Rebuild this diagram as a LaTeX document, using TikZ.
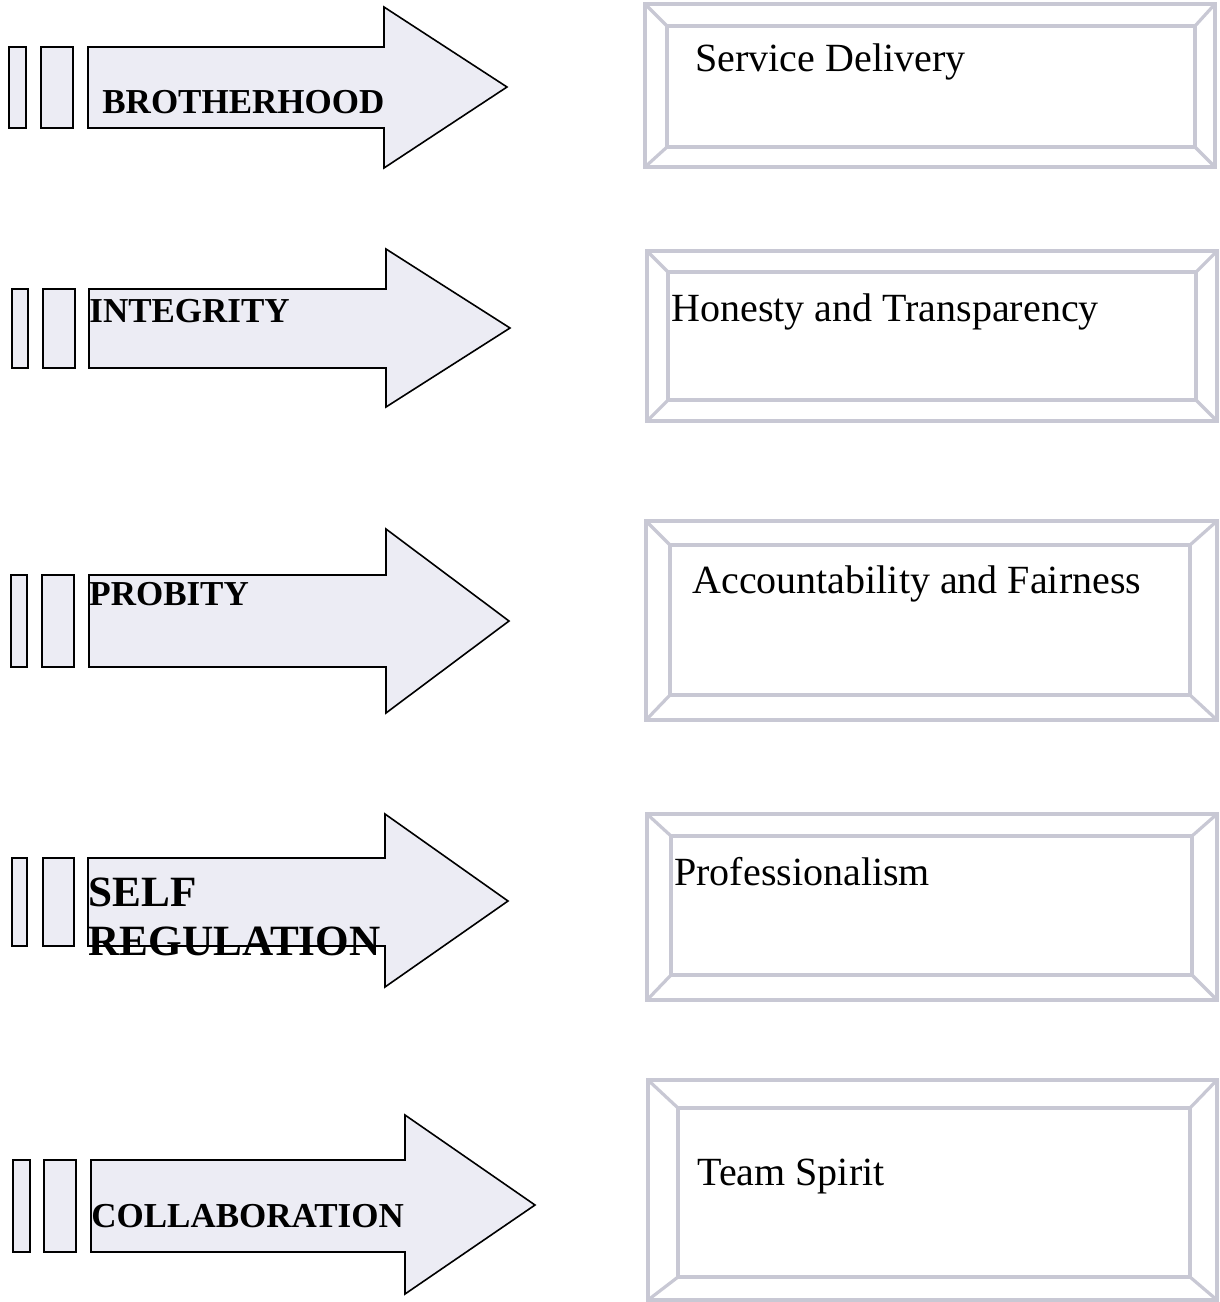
\documentclass[tikz,border=0pt]{standalone}
\usepackage{fontspec}
\setmainfont{Liberation Serif}
\definecolor{arrowfill}{RGB}{236,236,244}
\definecolor{frameline}{RGB}{200,200,212}
\begin{document}
\begin{tikzpicture}[x=0.5pt,y=-0.5pt,
  barbox/.style={draw=black,line width=0.8pt,fill=arrowfill},
  arrowfillst/.style={fill=arrowfill},
  arrowline/.style={draw=black,line width=0.8pt,line join=miter},
  lab/.style={anchor=base west,inner sep=0pt,font=\bfseries\fontsize{17.5}{21}\selectfont},
  biglab/.style={anchor=base west,inner sep=0pt,font=\bfseries\fontsize{21.6}{25}\selectfont},
  boxtext/.style={anchor=base west,inner sep=0pt,font=\fontsize{20}{24}\selectfont},
  frame/.style={draw=frameline,line width=1.6pt}]
\useasboundingbox (0,0) rectangle (1220,1302);
\fill[white] (0,0) rectangle (1220,1302);

% ---------- Arrow 1 ----------
\draw[barbox] (9,47) rectangle (26,128);
\draw[barbox] (41,47) rectangle (73,128);
\path[arrowfillst] (88,47) -- (384,47) -- (384,7) -- (507,87) -- (384,168) -- (384,128) -- (88,128) -- cycle;
\node[lab] (brotherhood) at (102,113) {BROTHERHOOD};
\path[arrowline] (88,47) -- (384,47) -- (384,7) -- (507,87) -- (384,168) -- (384,128) -- (88,128) -- cycle;

% ---------- Arrow 2 ----------
\draw[barbox] (12,289) rectangle (28,368);
\draw[barbox] (43,289) rectangle (75,368);
\path[arrowfillst] (89,289) -- (386,289) -- (386,249) -- (510,328) -- (386,407) -- (386,368) -- (89,368) -- cycle;
\node[lab] (integrity) at (89,322) {INTEGRITY};
\path[arrowline] (89,289) -- (386,289) -- (386,249) -- (510,328) -- (386,407) -- (386,368) -- (89,368) -- cycle;

% ---------- Arrow 3 ----------
\draw[barbox] (11,575) rectangle (27,667);
\draw[barbox] (42,575) rectangle (74,667);
\path[arrowfillst] (89,575) -- (386,575) -- (386,529) -- (509,621) -- (386,713) -- (386,667) -- (89,667) -- cycle;
\node[lab] (probity) at (89,605) {PROBITY};
\path[arrowline] (89,575) -- (386,575) -- (386,529) -- (509,621) -- (386,713) -- (386,667) -- (89,667) -- cycle;

% ---------- Arrow 4 ----------
\draw[barbox] (12,858) rectangle (27,946);
\draw[barbox] (43,858) rectangle (74,946);
\path[arrowfillst] (88,858) -- (385,858) -- (385,814) -- (508,901) -- (385,987) -- (385,946) -- (88,946) -- cycle;
\node[biglab] (self) at (88,906) {SELF};
\node[biglab] (regulation) at (88,955) {REGULATION};
\path[arrowline] (88,858) -- (385,858) -- (385,814) -- (508,901) -- (385,987) -- (385,946) -- (88,946) -- cycle;

% ---------- Arrow 5 ----------
\draw[barbox] (13,1160) rectangle (30,1252);
\draw[barbox] (44,1160) rectangle (76,1252);
\path[arrowfillst] (91,1160) -- (405,1160) -- (405,1115) -- (535,1205) -- (405,1294) -- (405,1252) -- (91,1252) -- cycle;
\node[lab] (collaboration) at (91,1227) {COLLABORATION};
\path[arrowline] (91,1160) -- (405,1160) -- (405,1115) -- (535,1205) -- (405,1294) -- (405,1252) -- (91,1252) -- cycle;

% ---------- Frames ----------
% box 1
\draw[frame] (645,4) rectangle (1215,167);
\draw[frame] (667,26) rectangle (1195,147);
\draw[frame] (645,4) -- (667,26) (1215,4) -- (1195,26) (645,167) -- (667,147) (1215,167) -- (1195,147);
\node[boxtext] (service) at (695,71) {Service Delivery};
% box 2
\draw[frame] (647,251) rectangle (1217,421);
\draw[frame] (668,272) rectangle (1196,400);
\draw[frame] (647,251) -- (668,272) (1217,251) -- (1196,272) (647,421) -- (668,400) (1217,421) -- (1196,400);
\node[boxtext] (honesty) at (671,321) {Honesty and Transparency};
% box 3
\draw[frame] (646,521) rectangle (1217,720);
\draw[frame] (670,545) rectangle (1190,695);
\draw[frame] (646,521) -- (670,545) (1217,521) -- (1190,545) (646,720) -- (670,695) (1217,720) -- (1190,695);
\node[boxtext] (accountability) at (692,593) {Accountability and Fairness};
% box 4
\draw[frame] (647,814) rectangle (1217,1000);
\draw[frame] (671,836) rectangle (1192,975);
\draw[frame] (647,814) -- (671,836) (1217,814) -- (1192,836) (647,1000) -- (671,975) (1217,1000) -- (1192,975);
\node[boxtext] (professionalism) at (674,885) {Professionalism};
% box 5
\draw[frame] (648,1080) rectangle (1217,1300);
\draw[frame] (678,1108) rectangle (1190,1277);
\draw[frame] (648,1080) -- (678,1108) (1217,1080) -- (1190,1108) (648,1300) -- (678,1277) (1217,1300) -- (1190,1277);
\node[boxtext] (team) at (697,1185) {Team Spirit};
\end{tikzpicture}
\end{document}
